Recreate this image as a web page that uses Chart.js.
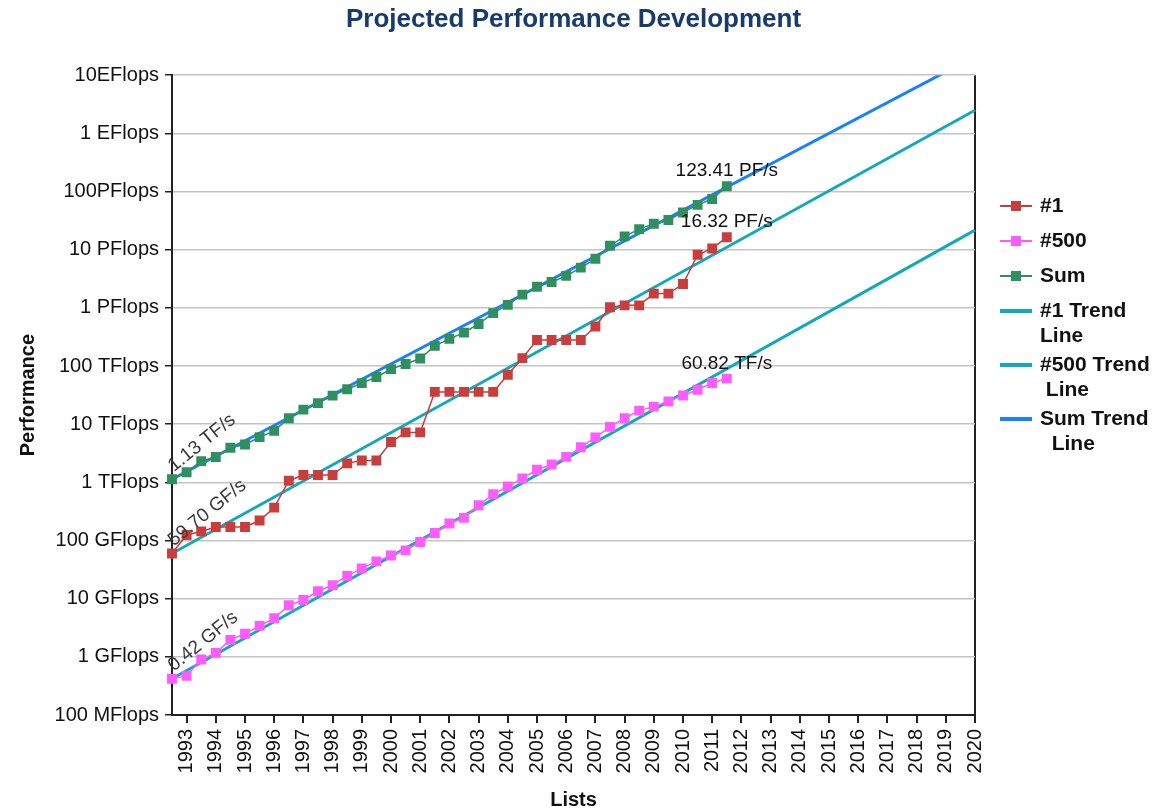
<!DOCTYPE html>
<html>
<head>
<meta charset="utf-8">
<title>Projected Performance Development</title>
<script src="https://cdn.jsdelivr.net/npm/chart.js@4.4.1/dist/chart.umd.min.js"></script>
<style>
    html, body { margin: 0; padding: 0; background: #fff; }
    #wrap { width: 1165px; height: 812px; }
</style>
</head>
<body>
<div id="wrap"><canvas id="perfChart" width="1165" height="812"></canvas></div>
<script>
// one TOP500 list in June and one in November; axis runs 06/1993 .. 11/2020
const years = [1993, 1994, 1995, 1996, 1997, 1998, 1999, 2000, 2001, 2002, 2003, 2004, 2005, 2006,
    2007, 2008, 2009, 2010, 2011, 2012, 2013, 2014, 2015, 2016, 2017, 2018, 2019, 2020];
const lists = [];
years.forEach(y => { lists.push('06/' + y); lists.push('11/' + y); });

// measured values in GFlops, 06/1993 .. 06/2012
const top1 = [59.7, 124.5, 143.4, 170.4, 170.4, 170.4, 220.4, 368.2, 1068, 1338, 1338, 1338, 2121,
    2379, 2379, 4938, 7226, 7226, 35860, 35860, 35860, 35860, 35860, 70720, 136800, 280600,
    280600, 280600, 280600, 478200, 1026000, 1105000, 1105000, 1759000, 1759000, 2566000,
    8162000, 10510000, 16324750];
const top500 = [0.42, 0.47, 0.9, 1.17, 1.96, 2.49, 3.4, 4.6, 7.7, 9.5, 13.4, 17.1, 24.7, 33.1,
    43.8, 55.1, 67.8, 94.3, 134.3, 195.8, 244.9, 403.4, 624, 850.6, 1166, 1646, 2026, 2737,
    4005, 5929, 9000, 12640, 17090, 20050, 24670, 31120, 39090, 50940, 60820];
const sum = [1128.6, 1493, 2317, 2732, 3926, 4470, 5985, 7672, 12660, 17800, 23000, 31000, 39900,
    50900, 64800, 88400, 108600, 134600, 222000, 293100, 374800, 527900, 812700, 1127000,
    1690000, 2300000, 2790000, 3540000, 4920000, 6970000, 11700000, 16950000, 22600000,
    27950000, 32400000, 43700000, 58900000, 74200000, 123410000];

// trend lines: value at the first and at the last list of the axis
const trend1 = [59.7, 2.5e9];
const trend500 = [0.42, 2.17e7];
const trendSum = [1128.6, 2.1e10];

const yTicks = [0.1, 1, 10, 100, 1e3, 1e4, 1e5, 1e6, 1e7, 1e8, 1e9, 1e10];
const yTickLabels = ['100 MFlops', '1 GFlops', '10 GFlops', '100 GFlops', '1 TFlops', '10 TFlops',
    '100 TFlops', '1 PFlops', '10 PFlops', '100PFlops', '1 EFlops', '10EFlops'];

const RED = '#c93d3d';
const PINK = '#ff5cff';
const GREEN = '#2f8f5f';
const TEAL = '#14a9ba';
const BLUE = '#1a80ff';
const FONT = '"Liberation Sans", Arial, sans-serif';

function formatFlops(v) {
    const units = ['GF/s', 'TF/s', 'PF/s', 'EF/s'];
    let i = 0;
    while (v >= 1000 && i < units.length - 1) { v /= 1000; i++; }
    return v.toFixed(2) + ' ' + units[i];
}

function trendData(pair) {
    return [{ x: lists[0], y: pair[0] }, { x: lists[lists.length - 1], y: pair[1] }];
}

const legendItems = [
    { text: ['#1'], color: RED, marker: true },
    { text: ['#500'], color: PINK, marker: true },
    { text: ['Sum'], color: GREEN, marker: true },
    { text: ['#1 Trend', 'Line'], color: TEAL },
    { text: ['#500 Trend', ' Line'], color: TEAL },
    { text: ['Sum Trend', '  Line'], color: BLUE }
];

// value labels at the start and the end of each measured series, plus the legend
const labelsPlugin = {
    id: 'perfLabels',
    afterDraw(chart) {
        const { ctx, scales: { x, y } } = chart;
        ctx.save();
        ctx.font = '19px ' + FONT;
        ctx.fillStyle = '#3a3a3a';
        ctx.textBaseline = 'alphabetic';

        [sum, top1, top500].forEach(series => {
            const px = x.getPixelForValue(0);
            const py = y.getPixelForValue(series[0]);
            ctx.save();
            ctx.translate(px + 2, py - 7);
            ctx.rotate(-39 * Math.PI / 180);
            ctx.textAlign = 'left';
            ctx.fillText(formatFlops(series[0]), 0, 0);
            ctx.restore();
        });

        ctx.fillStyle = '#111';
        ctx.textAlign = 'center';
        [sum, top1, top500].forEach(series => {
            const last = series.length - 1;
            const px = x.getPixelForValue(last);
            const py = y.getPixelForValue(series[last]);
            ctx.fillText(formatFlops(series[last]), px, py - 10);
        });

        // legend
        let ly = 206;
        ctx.textAlign = 'left';
        ctx.textBaseline = 'middle';
        ctx.font = 'bold 21px ' + FONT;
        legendItems.forEach(item => {
            ctx.strokeStyle = item.color;
            ctx.lineWidth = item.marker ? 2 : 4;
            ctx.beginPath();
            ctx.moveTo(1000, ly);
            ctx.lineTo(1032, ly);
            ctx.stroke();
            if (item.marker) {
                ctx.fillStyle = item.color;
                ctx.fillRect(1011, ly - 5, 10, 10);
            }
            ctx.fillStyle = '#111';
            item.text.forEach((line, i) => ctx.fillText(line, 1040, ly + i * 25));
            ly += item.text.length > 1 ? 54 : 35;
        });
        ctx.restore();
    }
};

const seriesStyle = color => ({
    borderColor: color,
    backgroundColor: color,
    borderWidth: 1.5,
    pointStyle: 'rect',
    pointRadius: 7,
    pointBorderWidth: 0,
    tension: 0
});

const trendStyle = color => ({
    borderColor: color,
    backgroundColor: color,
    borderWidth: 3,
    pointRadius: 0,
    tension: 0
});

new Chart(document.getElementById('perfChart'), {
    type: 'line',
    data: {
        labels: lists,
        datasets: [
            { label: '#1', data: top1, order: 1, ...seriesStyle(RED) },
            { label: '#500', data: top500, order: 1, ...seriesStyle(PINK) },
            { label: 'Sum', data: sum, order: 1, ...seriesStyle(GREEN) },
            { label: '#1 Trend Line', data: trendData(trend1), order: 2, ...trendStyle(TEAL) },
            { label: '#500 Trend Line', data: trendData(trend500), order: 2, ...trendStyle(TEAL) },
            { label: 'Sum Trend Line', data: trendData(trendSum), order: 2, ...trendStyle(BLUE) }
        ]
    },
    options: {
        responsive: false,
        animation: false,
        devicePixelRatio: 1,
        layout: { padding: { right: 190 } },
        plugins: {
            legend: { display: false },
            tooltip: { enabled: false },
            title: {
                display: true,
                fullSize: false,
                text: 'Projected Performance Development',
                color: '#173c6b',
                font: { family: FONT, size: 26, weight: 'bold', lineHeight: 1.2 },
                padding: { top: 4, bottom: 40 }
            }
        },
        scales: {
            x: {
                type: 'category',
                offset: false,
                afterFit: scale => { scale.height = 97; },
                afterBuildTicks: scale => {
                    scale.ticks = scale.ticks.filter(t => lists[t.value].startsWith('11/'));
                },
                ticks: {
                    autoSkip: false,
                    minRotation: 90,
                    maxRotation: 90,
                    padding: 6,
                    color: '#111',
                    font: { family: FONT, size: 20 },
                    callback: value => lists[value].slice(3)
                },
                grid: {
                    offset: false,
                    drawOnChartArea: true,
                    color: c => (c.tick && c.tick.value === lists.length - 1) ? '#222' : 'rgba(0,0,0,0)',
                    tickColor: '#222',
                    tickLength: 8,
                    lineWidth: 2
                },
                border: { display: true, color: '#222', width: 2 },
                title: {
                    display: true,
                    text: 'Lists',
                    color: '#111',
                    font: { family: FONT, size: 20, weight: 'bold', lineHeight: 1.2 },
                    padding: { top: 0, bottom: 0 }
                }
            },
            y: {
                type: 'logarithmic',
                min: 0.1,
                max: 1e10,
                afterFit: scale => { scale.width = 172; },
                afterBuildTicks: scale => { scale.ticks = yTicks.map(v => ({ value: v })); },
                ticks: {
                    padding: 6,
                    color: '#111',
                    font: { family: FONT, size: 20 },
                    callback: value => yTickLabels[Math.round(Math.log10(value)) + 1]
                },
                grid: {
                    color: '#c4c4c4',
                    lineWidth: 1.5,
                    tickColor: '#222',
                    tickLength: 7
                },
                border: { display: true, color: '#222', width: 2 },
                title: {
                    display: true,
                    text: 'Performance',
                    color: '#111',
                    font: { family: FONT, size: 20, weight: 'bold', lineHeight: 1.2 },
                    padding: { top: 16, bottom: 0 }
                }
            }
        }
    },
    plugins: [labelsPlugin]
});
</script>
</body>
</html>
